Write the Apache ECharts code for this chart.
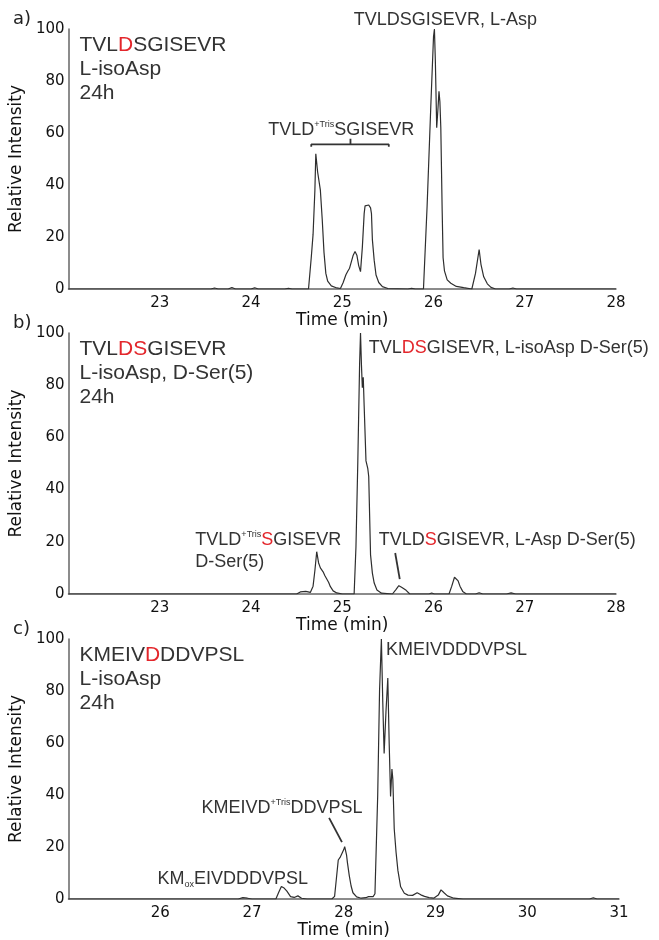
<!DOCTYPE html>
<html>
<head>
<meta charset="utf-8">
<script src="https://cdn.jsdelivr.net/npm/echarts@6/dist/echarts.min.js"></script>
<style>
  html, body { margin: 0; padding: 0; background: #ffffff; }
  #chart { width: 659px; height: 940px; }
</style>
</head>
<body>
<div id="chart"></div>
<script>
// Extracted-ion chromatograms: [retention time (min), relative intensity (%)]
const chromA = [
  [22.00,0],[23.56,0],[23.60,0.4],[23.64,0],[23.75,0],[23.79,0.6],[23.83,0],[24.00,0],[24.04,0.5],[24.08,0],
  [24.37,0],[24.41,0.3],[24.45,0],[24.63,0],[24.66,12],[24.68,21],[24.70,38],[24.71,52],[24.73,45],[24.76,38],
  [24.78,27],[24.80,14],[24.82,6],[24.84,3],[24.88,1.2],[24.94,0.4],[24.98,0.2],[25.01,2.5],[25.04,5.5],[25.06,6.8],
  [25.08,8],[25.10,10.5],[25.12,13],[25.14,14.4],[25.16,13],[25.18,9],[25.20,6.7],[25.22,16],[25.24,29],[25.25,32],
  [25.27,31.5],[25.29,32.3],[25.31,31.2],[25.32,29],[25.33,19],[25.35,11],[25.37,5.4],[25.40,2.5],[25.44,0.9],[25.50,0.2],
  [25.72,0],[25.76,0.3],[25.80,0],[25.89,0],[25.93,32],[25.97,70],[26.00,97],[26.01,100],[26.02,88],[26.035,62],
  [26.05,70],[26.06,76],[26.07,72],[26.08,62],[26.095,30],[26.105,12],[26.12,7],[26.15,3.5],[26.19,2.2],[26.25,1],
  [26.33,0.5],[26.42,0],[26.46,6],[26.50,15.2],[26.52,9.5],[26.55,4.7],[26.59,2],[26.63,0.6],[26.68,0],[26.83,0],
  [26.87,0.4],[26.91,0],[28.00,0]
];
const chromB = [
  [22.00,0],[24.50,0],[24.54,0.8],[24.60,1],[24.65,0.6],[24.68,3],[24.70,9],[24.72,16.2],[24.74,12],[24.76,10],
  [24.79,8.5],[24.81,7],[24.83,6.6],[24.85,4.5],[24.87,2.8],[24.90,1.2],[24.94,0.4],[25.00,0],[25.13,0],[25.15,18],
  [25.17,50],[25.19,88],[25.20,100],[25.21,88],[25.22,79],[25.23,83],[25.24,72],[25.26,51],[25.28,48],[25.29,45],
  [25.31,15],[25.33,8],[25.35,4.2],[25.38,1.5],[25.43,0.3],[25.55,0],[25.59,1.8],[25.62,3.2],[25.65,2.6],[25.67,2.8],
  [25.70,1.4],[25.74,0],[25.95,0],[25.98,0.4],[26.01,0],[26.17,0],[26.20,3],[26.23,6.4],[26.25,6.6],[26.27,5],
  [26.29,3],[26.32,1],[26.36,0],[26.46,0],[26.50,0.5],[26.54,0],[26.80,0],[26.85,0.4],[26.90,0],[28.00,0]
];
const chromC = [
  [25.00,0],[26.85,0],[26.90,0.5],[26.95,0.3],[27.00,0],[27.26,0],[27.29,2.5],[27.32,4.8],[27.35,4.2],[27.38,3],
  [27.42,0.9],[27.46,0.6],[27.50,1.2],[27.54,0.3],[27.60,0],[27.87,0],[27.90,1],[27.92,8],[27.94,15],[27.96,16],
  [27.98,15.5],[28.00,19],[28.01,20.1],[28.03,17],[28.04,14],[28.06,9],[28.08,5],[28.10,2.4],[28.14,0.8],[28.19,0.3],
  [28.24,0.5],[28.27,0.9],[28.32,0.9],[28.34,2],[28.37,40],[28.39,80],[28.41,100],[28.425,76],[28.44,56],[28.46,72],
  [28.48,85],[28.495,60],[28.51,39.4],[28.525,50],[28.535,46],[28.55,27],[28.57,18],[28.59,11],[28.62,4.7],[28.66,2.2],
  [28.70,1.5],[28.75,1.4],[28.80,2.4],[28.84,1.6],[28.88,1],[28.93,0.5],[28.98,0.3],[29.03,1.5],[29.06,3.5],[29.09,2.5],
  [29.13,1.2],[29.20,0.3],[29.30,0],[30.68,0],[30.72,0.5],[30.76,0],[31.00,0]
];

// Axis ranges and ticks
const timeRanges = [[22, 28], [22, 28], [25, 31]];
const timeStep = 1;
const intensityTicks = [0, 20, 40, 60, 80, 100];
const panelLetters = ['a)', 'b)', 'c)'];

// Bracket over the +Tris adduct peaks (a) and leader lines (b, c)
const trisBracketA = [[24.66,54.7],[24.66,55.6],[25.09,55.6],[25.09,57.8],[25.09,55.6],[25.51,55.6],[25.51,54.7]];
const leaderB = [[25.58,15.7],[25.63,5.7]];
const leaderC = [[27.84,31.2],[27.98,21.9]];

const RED = '#e3262b';
const INK = '#333333';
const TXT_FONT = '"Liberation Sans", Arial, sans-serif';
const AX_FONT = '"DejaVu Sans", sans-serif';

const grids = [
  { left: 66, top: 29,  width: 550, height: 260 },
  { left: 66, top: 333, width: 550, height: 261 },
  { left: 66, top: 639, width: 553, height: 260 }
];

const traces = [chromA, chromB, chromC];

const xAxes = timeRanges.map((r, i) => ({
  type: 'value', gridIndex: i, min: r[0], max: r[1], interval: timeStep,
  name: 'Time (min)', nameLocation: 'middle', nameGap: 19,
  nameTextStyle: { fontFamily: AX_FONT, fontSize: 17, color: '#111' },
  axisLine: { show: true, onZero: false, lineStyle: { color: '#666', width: 1.5 } },
  axisTick: { show: false },
  splitLine: { show: false },
  axisLabel: { showMinLabel: false, fontFamily: AX_FONT, fontSize: 15, color: '#111', margin: 7 }
}));

const yAxes = grids.map((g, i) => ({
  type: 'value', gridIndex: i,
  min: intensityTicks[0], max: intensityTicks[intensityTicks.length - 1],
  interval: intensityTicks[1] - intensityTicks[0],
  name: 'Relative Intensity', nameLocation: 'middle', nameRotate: 90, nameGap: 34,
  nameTextStyle: { fontFamily: AX_FONT, fontSize: 17, color: '#111' },
  axisLine: { show: true, lineStyle: { color: '#666', width: 1.5 } },
  axisTick: { show: false },
  splitLine: { show: false },
  axisLabel: { fontFamily: AX_FONT, fontSize: 15, color: '#111', margin: 4 }
}));

const series = traces.map((d, i) => ({
  type: 'line', xAxisIndex: i, yAxisIndex: i, data: d,
  showSymbol: false, symbol: 'none', silent: true,
  lineStyle: { color: '#2e2e2e', width: 1.2 }
}));
[[trisBracketA, 0, 1.8], [leaderB, 1, 1.8], [leaderC, 2, 1.8]].forEach(([d, i, w]) => {
  series.push({
    type: 'line', xAxisIndex: i, yAxisIndex: i, data: d,
    showSymbol: false, symbol: 'none', silent: true, z: 5,
    lineStyle: { color: INK, width: w }
  });
});

const chart = echarts.init(document.getElementById('chart'), null, { renderer: 'canvas' });
chart.setOption({
  animation: false,
  backgroundColor: '#ffffff',
  grid: grids,
  xAxis: xAxes,
  yAxis: yAxes,
  series: series
});

// Peptide labels, anchored in data coordinates of each panel
const rich = (size, lh) => ({
  r:   { fill: RED, color: RED, fontSize: size, fontFamily: TXT_FONT, lineHeight: lh },
  sup: { fontSize: 9, fontFamily: TXT_FONT, lineHeight: lh, verticalAlign: 'top', padding: [1, 0, 0, 0] },
  sub: { fontSize: 9, fontFamily: TXT_FONT, lineHeight: lh, verticalAlign: 'bottom', padding: [0, 0, 1, 0] }
});
const notes = [
  { g: 0, at: [22.12, 98.5], text: 'TVL{r|D}SGISEVR\nL-isoAsp\n24h', size: 21, lh: 24 },
  { g: 0, at: [26.13, 107.7], text: 'TVLDSGISEVR, L-Asp', align: 'center' },
  { g: 0, at: [24.19, 65.4], text: 'TVLD{sup|+Tris}SGISEVR' },
  { g: 1, at: [22.12, 98.5], text: 'TVL{r|DS}GISEVR\nL-isoAsp, D-Ser(5)\n24h', size: 21, lh: 24 },
  { g: 1, at: [25.29, 98.5], text: 'TVL{r|DS}GISEVR, L-isoAsp D-Ser(5)' },
  { g: 1, at: [23.39, 24.9], text: 'TVLD{sup|+Tris}{r|S}GISEVR\nD-Ser(5)' },
  { g: 1, at: [25.40, 24.9], text: 'TVLD{r|S}GISEVR, L-Asp D-Ser(5)' },
  { g: 2, at: [25.12, 98.5], text: 'KMEIV{r|D}DDVPSL\nL-isoAsp\n24h', size: 21, lh: 24 },
  { g: 2, at: [28.46, 100], text: 'KMEIVDDDVPSL' },
  { g: 2, at: [26.45, 39.2], text: 'KMEIVD{sup|+Tris}DDVPSL' },
  { g: 2, at: [25.97, 11.9], text: 'KM{sub|ox}EIVDDDVPSL' }
];

const graphics = notes.map(n => {
  const p = chart.convertToPixel({ gridIndex: n.g }, n.at);
  const size = n.size || 18, lh = n.lh || 22;
  return {
    type: 'text', x: p[0], y: p[1], z: 10, silent: true,
    style: {
      text: n.text, fill: INK, fontSize: size, fontFamily: TXT_FONT, lineHeight: lh,
      align: n.align || 'left', verticalAlign: 'top', rich: rich(size, lh)
    }
  };
});
panelLetters.forEach((t, i) => {
  graphics.push({
    type: 'text', x: 13, y: grids[i].top - 19, z: 10, silent: true,
    style: { text: t, fill: '#222', fontSize: 18, fontFamily: AX_FONT, align: 'left', verticalAlign: 'top' }
  });
});
chart.setOption({ graphic: graphics });
</script>
</body>
</html>
